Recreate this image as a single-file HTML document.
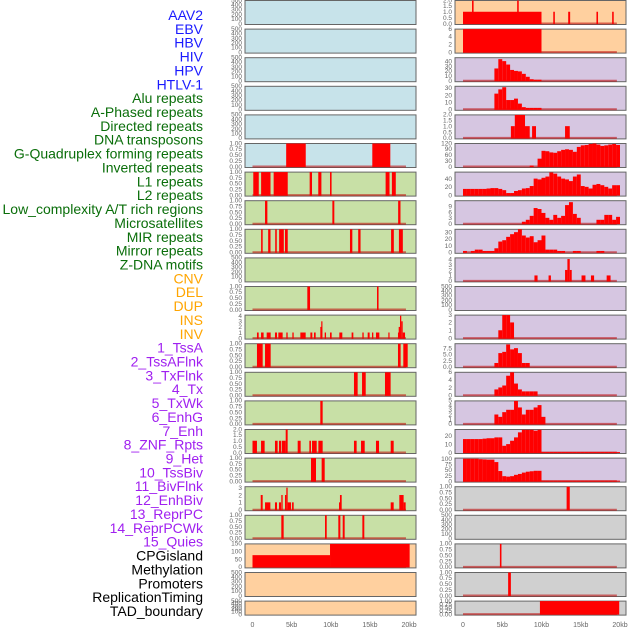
<!DOCTYPE html>
<html><head><meta charset="utf-8"><style>
html,body{margin:0;padding:0;background:#fff;width:630px;height:630px;overflow:hidden}
svg{display:block;font-family:"Liberation Sans",sans-serif}
</style></head><body>
<svg id="chart" width="630" height="630" viewBox="0 0 630 630" xmlns="http://www.w3.org/2000/svg"></svg>
<script>
// ---------- labels ----------
const labelNames = ["AAV2","EBV","HBV","HIV","HPV","HTLV-1","Alu repeats","A-Phased repeats","Directed repeats","DNA transposons","G-Quadruplex forming repeats","Inverted repeats","L1 repeats","L2 repeats","Low_complexity A/T rich regions","Microsatellites","MIR repeats","Mirror repeats","Z-DNA motifs","CNV","DEL","DUP","INS","INV","1_TssA","2_TssAFlnk","3_TxFlnk","4_Tx","5_TxWk","6_EnhG","7_Enh","8_ZNF_Rpts","9_Het","10_TssBiv","11_BivFlnk","12_EnhBiv","13_ReprPC","14_ReprPCWk","15_Quies","CPGisland","Methylation","Promoters","ReplicationTiming","TAD_boundary"];
const labelGroups = [6,13,5,15,5];
const groupColors = ["#1a1aff","#0a6e0a","#ffa500","#a020f0","#000000"];
const xTickLabels = ["0","5kb","10kb","15kb","20kb"];
const xTickValues = [0,5,10,15,20];

// ---------- left column data: [startKb, endKb, value] ----------
const L5 = [[4.3,6.8,1],[15.3,17.6,1]];
const L6 = [[0.1,0.8,1],[1.1,2.3,1],[2.7,4.5,1],[7.3,7.6,1],[8.4,8.8,1],[9.9,10.1,1],[17.0,17.5,1],[17.8,18.3,1]];
const L7 = [[1.6,1.9,1],[10.2,10.45,1],[18.6,18.9,1]];
const L8 = [[1.1,1.3,1],[2.0,2.3,1],[2.9,3.1,1],[3.4,4.0,1],[4.15,4.5,1],[12.45,12.75,1],[13.5,13.8,1],[17.7,18.05,1],[18.7,19.2,1]];
const L10 = [[7.0,7.35,1],[15.9,16.1,1]];
const L11 = [[0.57,0.79,1],[1.09,1.42,1],[1.81,2.32,1],[2.87,3.13,1],[3.3,3.85,1],[4.32,4.49,1],[5.09,5.26,1],[6.11,6.79,1],[7.39,7.64,1],[7.85,8.07,1],[8.66,8.78,2],[8.78,8.92,3],[9.22,9.39,1],[9.9,10.11,1],[11.09,11.47,1],[12.66,12.88,1],[14.03,14.2,1],[14.71,14.96,1],[15.26,15.43,1],[15.77,16.2,1],[17.35,17.48,1],[18.58,18.67,1],[18.67,18.84,2],[18.84,19.0,4],[19.0,19.18,3],[19.18,19.48,1]];
const L12 = [[0.57,1.3,1],[1.6,2.32,1],[18.58,18.92,1],[19.26,19.82,1]];
const L13 = [[12.96,13.43,1],[13.99,14.46,1],[16.92,17.64,1]];
const L14 = [[8.66,8.96,1]];
const L15 = [[0,0.57,1],[1.09,1.55,1],[2.87,3.21,1],[3.38,3.64,1],[3.73,4.24,1],[4.24,4.49,2],[5.77,6.15,1],[7.26,7.47,1],[7.6,8.2,1],[8.41,8.96,1],[12.96,13.3,1],[13.86,14.33,1],[15.77,16.16,1],[17.65,18.03,1]];
const L16 = [[7.47,8.11,1],[8.83,9.22,1]];
const L17 = [[1.05,1.3,2],[1.6,2.28,1],[2.87,3.13,1],[3.38,3.64,1],[3.68,3.85,2],[4.15,4.32,2],[4.32,4.49,3],[4.49,4.92,1],[5.05,5.26,1],[11.05,11.17,1],[11.17,11.39,2],[17.65,18.03,1],[18.75,19.3,2],[19.3,19.56,1]];
const L18 = [[3.68,3.98,1],[9.26,9.48,1],[10.96,11.22,1],[11.52,11.77,1],[14.03,14.28,1]];
const L19 = [[0,9.9,75],[9.9,20.07,150]];

// ---------- right column data ----------
const R0 = [[0,10,1],[1.15,1.35,2],[6.9,7.1,2],[11.5,11.7,1],[13.4,13.65,1],[17.0,17.2,1],[19.0,19.2,1]];
const R1 = [[0,10,6]];
const R2 = [0,0,0,0,0,0,0,0,25,44,40,33,22,20,19,14,8,3,2,2,0,0,0,0,0,0,0,0,0,0,0,0,0,0,0,0,0,0,0,0];
const R3 = [0,0,0,0,0,0,0,0,22,28,31,13,13,15,8,3,2,2,2,2,0,0,0,0,0,0,0,0,0,0,0,0,0,0,0,0,0,0,0,0];
const R4 = [[6.1,6.6,1],[6.6,7.9,2],[7.9,8.5,1],[8.8,9.3,1],[13.0,13.6,1]];
const R5 = [0,0,0,0,0,0,0,0,0,0,0,0,0,0,0,0,0,5,0,40,80,78,72,70,78,85,88,85,75,100,108,110,115,118,112,105,108,112,115,110];
const R6 = [15,15,15,15,15,15,16,17,17,15,12,5,5,10,12,16,17,22,40,38,42,45,55,52,45,40,38,34,45,50,22,20,16,25,27,24,20,16,24,24];
const R7 = [0,0,0,0,0,0,0,0,0,0,0,0,0,0,0,1,2,4,8,7.5,5.5,3,2,4.5,3,4,9.5,11,5,3,0,0,0,0,2,2,4.5,4.5,2,3.5];
const R8 = [2,0,2,4,4,2,2,2,6,16,18,23,27,30,35,25,22,24,15,18,25,4,4,4,2,2,0,0,2,2,0,0,0,0,2,2,0,0,0,0];
const R9 = [[9.1,9.5,1],[10.9,11.2,1],[13.0,13.3,2],[13.3,13.6,4],[13.6,13.85,2],[15.1,15.6,1],[16.3,16.7,1],[18.3,18.8,1]];
const R11 = [0,0,0,0,0,0,0,0,0,1,3,3,2,0,0,0,0,0,0,0,0,0,0,0,0,0,0,0,0,0,0,0,0,0,0,0,0,0,0,0];
const R12 = [0,0,0,0,0,0,0,0,1.5,5.5,6,9,7,7.5,5.5,1.5,1.5,0,0,0,0,0,0,0,0,0,0,0,0,0,0,0,0,0,0,0,0,0,0,0];
const R13 = [0,0,0,0,0,0,0,0,1.5,2,2.5,5,6,3,1.5,1,1,1,1,0,0,0,0,0,0,0,0,0,0,0,0,0,0,0,0,0,0,0,0,0];
const R14 = [0,0,0,0,0,0,0,0,2,1.5,2.5,3,3,5,3.5,2,3,3,3.5,4,1.5,0,0,0,0,0,0,0,0,0,0,0,0,0,0,0,0,0,0,0];
const R15 = [16,16,16,16,16,16.5,17,17,18,18,8,10,14,18,24,27,27,27,26,27,0.5,0.5,0.5,0.5,0.5,0.5,0.5,0.5,0.5,0.5,0.5,0.5,0.5,0.5,0.5,0.5,0.5,0.5,0.5,0.5];
const R16 = [100,100,100,100,98,97,96,96,85,45,22,20,22,28,32,38,42,44,46,46,2,2,2,2,2,2,2,2,2,2,2,2,2,2,2,2,2,2,2,2];
const R17 = [[13.2,13.6,1]];
const R19 = [[4.7,4.9,1]];
const R20 = [[5.75,6.1,1]];
const R21 = [[9.8,19.9,1]];

// ---------- tick label arrays ----------
const T500 = ["0","100","200","300","400","500"];
const T1 = ["0.00","0.25","0.50","0.75","1.00"];
const T2d = ["0.0","0.5","1.0","1.5","2.0"];
const T4 = ["0","1","2","3","4"];
const T3 = ["0","1","2","3"];
const T150 = ["0","50","100","150"];
const T6 = ["0","2","4","6"];
const T40 = ["0","10","20","30","40"];
const T30 = ["0","10","20","30"];
const T120 = ["0","30","60","90","120"];
const T57 = ["0","20","40"];
const T9 = ["0","3","6","9"];
const T5 = ["0","1","2","3","4","5"];
const T75 = ["0.0","2.5","5.0","7.5"];
const T20 = ["0","10","20"];
const T100 = ["0","25","50","75","100"];

const BLUE="#c7e3ea",GREEN="#c8e0a6",ORANGE="#ffd09f",PURPLE="#d6c6e1",GRAY="#d0d0d0";
// left: [bg, ymax, ticks, data]
const leftRows = [
 [BLUE,500,T500,null],[BLUE,500,T500,null],[BLUE,500,T500,null],[BLUE,500,T500,null],[BLUE,500,T500,null],
 [BLUE,1,T1,L5],[GREEN,1,T1,L6],[GREEN,1,T1,L7],[GREEN,1,T1,L8],[GREEN,500,T500,null],[GREEN,1,T1,L10],
 [GREEN,4.2,T4,L11],[GREEN,1,T1,L12],[GREEN,1,T1,L13],[GREEN,1,T1,L14],[GREEN,2,T2d,L15],[GREEN,1,T1,L16],
 [GREEN,3.2,T3,L17],[GREEN,1,T1,L18],[ORANGE,150,T150,L19],[ORANGE,500,T500,null],[ORANGE,500,T500,null]
];
const rightRows = [
 [ORANGE,2,T2d,R0,0],[ORANGE,6,T6,R1,0],[PURPLE,48,T40,R2,1],[PURPLE,33,T30,R3,1],[PURPLE,2,T2d,R4,0],
 [PURPLE,120,T120,R5,1],[PURPLE,57,T57,R6,1],[PURPLE,12,T9,R7,1],[PURPLE,35,T30,R8,1],[PURPLE,4.3,T4,R9,0],
 [PURPLE,500,T500,null,0],[PURPLE,3,T3,R11,1],[PURPLE,9.5,T75,R12,1],[PURPLE,6,T6,R13,1],[PURPLE,5,T5,R14,1],
 [PURPLE,28,T20,R15,1],[PURPLE,105,T100,R16,1],[GRAY,1,T1,R17,0],[GRAY,500,T500,null,0],[GRAY,1,T1,R19,0],
 [GRAY,1,T1,R20,0],[GRAY,1,T1,R21,0]
];

const svg = document.getElementById('chart');
const NS = "http://www.w3.org/2000/svg";
function mk(tag, attrs, parent){ const e=document.createElementNS(NS,tag); for(const k in attrs) e.setAttribute(k,attrs[k]); (parent||svg).appendChild(e); return e; }

// labels
let li=0;
labelGroups.forEach((n,g)=>{ for(let k=0;k<n;k++){ const t=mk('text',{x:203,y:15+li*13.86+5,'text-anchor':'end','font-size':14,fill:groupColors[g]}); t.textContent=labelNames[li];
 
 
 li++; } });

function rowTop(i){ return i*28.6; }
function rowH(i){ return i===21?15:25; }

function drawPanel(col, i, spec){
  const [bg,ymax,ticks,data,isBins]=spec;
  const px = col===0?245:455, pw=171, top=rowTop(i), h=rowH(i);
  const x0 = col===0?252.5:463, kx = col===0?7.83:7.85;
  const xs = kb => x0+kb*kx;
  const bot = top+h-1.5;
  const ys = v => bot - (v/ymax)*(h-1.5);
  const g = mk('g',{});
  
  
  mk('rect',{x:px,y:top+0.5,width:pw,height:h-1,fill:bg,stroke:'#666','stroke-width':1},g);
  if(data){
    mk('line',{x1:xs(0),x2:xs(19.6),y1:bot,y2:bot,stroke:'rgba(190,0,0,0.55)','stroke-width':2},g);
    let segs = isBins ? data.map((v,j)=>[j*0.5,(j+1)*0.5,v]) : data;
    segs.forEach(s=>{ if(s[2]<=0) return; const y=Math.max(ys(s[2]),top+0.5);
      const r=mk('rect',{x:xs(s[0]),y:y,width:Math.max(xs(s[1])-xs(s[0]),1.2),height:bot-y+0.5,fill:'#ff0000'},g);
      
       });
  }
  const tx = px-3;
  ticks.forEach((lab,j)=>{ const v=parseFloat(lab); let y=ys(v); if(ymax===500 && h<20) y=bot-(v/500)*(h-1.5);
    const t=mk('text',{x:tx,y:y+2.3,'text-anchor':'end','font-size':6.5,fill:'#666'},g); t.textContent=lab;
    
     });
}
leftRows.forEach((s,i)=>drawPanel(0,i,s));
rightRows.forEach((s,i)=>drawPanel(1,i,s));

// x axes
[[252.5,7.83],[463,7.85]].forEach(([x0,kx],c)=>{
  xTickValues.forEach((v,j)=>{ const t=mk('text',{x:x0+v*kx,y:627,'text-anchor':'middle','font-size':7,fill:'#666'}); t.textContent=xTickLabels[j];
    
     });
});
</script>
</body></html>
